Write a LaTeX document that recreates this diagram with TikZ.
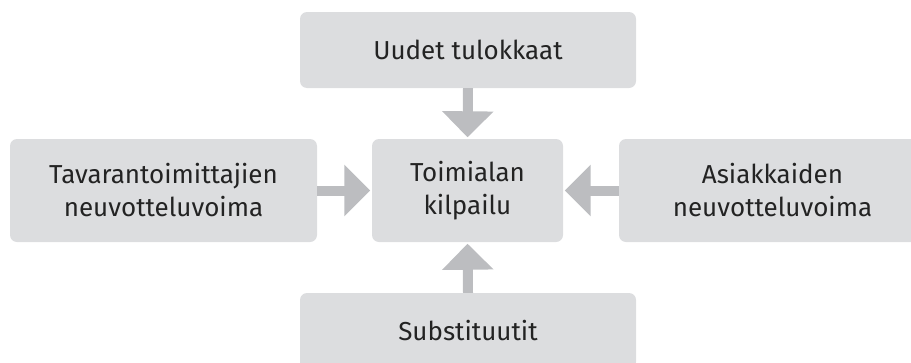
\documentclass[tikz,border=0pt]{standalone}
\usepackage{fontspec}
\setmainfont{Fira Sans}
\usetikzlibrary{arrows.meta}
\definecolor{boxfill}{RGB}{220,221,223}
\definecolor{arrowcol}{RGB}{188,189,192}
\definecolor{txtcol}{RGB}{35,35,35}
\tikzset{
  box/.style={rectangle, rounded corners=7pt, fill=boxfill, draw=none, inner sep=0pt,
    text=txtcol, align=center, font=\fontsize{26pt}{33pt}\selectfont},
  bigarrow/.style={draw=arrowcol, line width=10pt,
    -{Triangle[length=26pt,width=50pt,fill=arrowcol]}, shorten >=1.5pt}
}
\begin{document}
\begin{tikzpicture}[x=1pt,y=-1pt]
\useasboundingbox (0,0) rectangle (911,362);
\begin{scope}
\clip (0,0) rectangle (911,362);
\node[box, minimum width=336pt, minimum height=76pt] (top) at (468,50) {Uudet tulokkaat};
\node[box, minimum width=191pt, minimum height=103pt] (mid) at (467.5,190.5) {Toimialan\\kilpailu};
\node[box, minimum width=307pt, minimum height=103pt] (left) at (163.5,190.5) {Tavarantoimittajien\\neuvotteluvoima};
\node[box, minimum width=307pt, minimum height=103pt] (right) at (772.5,190.5) {Asiakkaiden\\neuvotteluvoima};
\node[box, minimum width=336pt, minimum height=76pt] (bottom) at (468,331) {Substituutit};
\draw[bigarrow] (top.south) -- (mid.north);
\draw[bigarrow] (left.east) -- (mid.west);
\draw[bigarrow] (right.west) -- (mid.east);
\draw[bigarrow] (bottom.north) -- (mid.south);
\end{scope}
\end{tikzpicture}
\end{document}
